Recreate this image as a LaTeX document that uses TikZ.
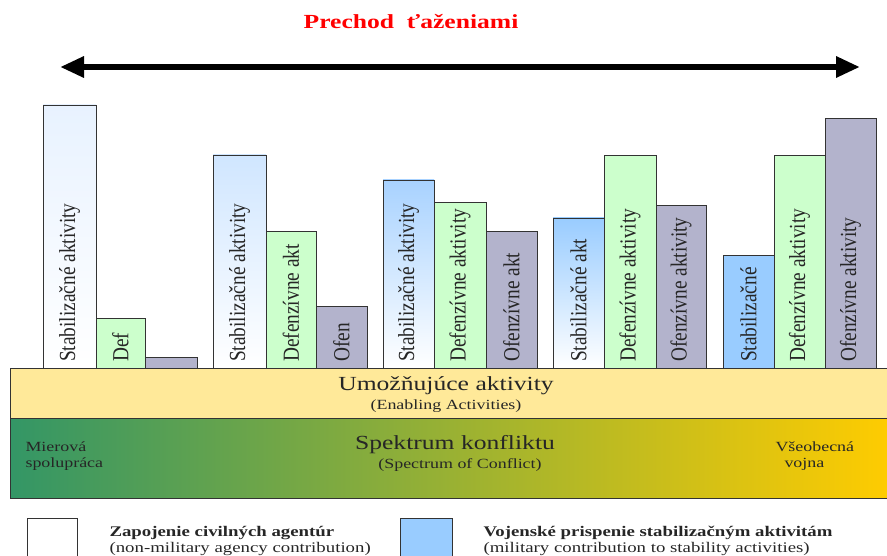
\documentclass[tikz,border=0pt]{standalone}
\usepackage{fontspec}
\setmainfont[FakeStretch=1.28]{Liberation Serif}
\newfontfamily\barfont[FakeStretch=0.84]{Liberation Serif}
\usetikzlibrary{arrows.meta}
\definecolor{stab}{RGB}{153,204,255}
\definecolor{defcol}{RGB}{204,255,204}
\definecolor{ofcol}{RGB}{179,179,204}
\definecolor{enabl}{RGB}{255,233,153}
\definecolor{peace}{RGB}{51,150,102}
\definecolor{midcol}{RGB}{176,174,78}
\definecolor{war}{RGB}{255,204,0}
\tikzset{
  barbox/.style={draw=black!80, line width=0.8pt},
  stabA/.style={top color={rgb,255:red,232;green,242;blue,255}, bottom color=white},
  stabB/.style={top color={rgb,255:red,208;green,230;blue,255}, bottom color=white},
  stabC/.style={top color={rgb,255:red,168;green,210;blue,255}, bottom color=white},
  stabD/.style={top color=stab, bottom color=white},
  stabE/.style={fill=stab},
  defb/.style={fill=defcol},
  ofb/.style={fill=ofcol},
  barlabel/.style={rotate=90, anchor=west, inner sep=0pt, text=black!85,
    font=\barfont\fontsize{23}{23}\selectfont},
  smalltext/.style={font=\fontsize{14}{16}\selectfont, text=black!85},
  legtext/.style={font=\fontsize{14.7}{16}\selectfont, text=black!85, anchor=west},
}

\begin{document}
\begin{tikzpicture}[x=1pt,y=-1pt]
\useasboundingbox (0,0) rectangle (887,556);

\node[text=red, font=\bfseries\fontsize{20}{24}\selectfont] (title) at (411,22) {Prechod\ \ ťaženiami}; % nadpis
\coordinate (leftend) at (60,67);
\coordinate (rightend) at (860,67);
\draw[line width=6pt, {Triangle[length=24pt,width=20pt]}-{Triangle[length=24pt,width=20pt]}] (leftend) -- (rightend); % sipka

% stlpce: lavy okraj / pravy okraj / vrch / styl / text
\foreach \xa/\xb/\yt/\sty/\txt [count=\i] in {
    43/96/105/stabA/Stabilizačné aktivity, 96/145/318/defb/Def, 145/197/357/ofb/,
    213/266/155/stabB/Stabilizačné aktivity, 266/316/231/defb/Defenzívne akt, 316/367/306/ofb/Ofen,
    383/434/180/stabC/Stabilizačné aktivity, 434/486/202/defb/Defenzívne aktivity, 486/537/231/ofb/Ofenzívne akt,
    553/604/218/stabD/Stabilizačné akt, 604/656/155/defb/Defenzívne aktivity, 656/706/205/ofb/Ofenzívne aktivity,
    723/774/255/stabE/Stabilizačné, 774/825/155/defb/Defenzívne aktivity, 825/876/118/ofb/Ofenzívne aktivity} {
  \draw[barbox, \sty] (\xa,368) rectangle (\xb,\yt);
  \node[barlabel] (lab\i) at ({(\xa+\xb)/2},362) {\txt};
}

% umoznujuce aktivity
\draw[barbox, fill=enabl] (10,368) rectangle (892,418);
\node[font=\fontsize{20}{22}\selectfont, text=black!85] (enab) at (446,386) {Umožňujúce aktivity};
\node[smalltext] (enaben) at (446,406) {(Enabling Activities)};

% spektrum konfliktu
\shade[left color=peace, middle color=midcol, right color=war] (10,418) rectangle (892,498);
\draw[barbox] (10,418) rectangle (892,498);
\node[font=\fontsize{20}{22}\selectfont, text=black!85] (spec) at (455,445) {Spektrum konfliktu};
\node[smalltext] (specen) at (460,465) {(Spectrum of Conflict)};
\node[smalltext, anchor=west, align=left] (peacetxt) at (22,456) {Mierová\\spolupráca};
\node[smalltext, anchor=west, align=left] (wartxt) at (772,456) {Všeobecná\\\ \ vojna};

% legenda
\draw[barbox, fill=white] (27,518) rectangle (77,570);
\draw[barbox, fill=stab] (400,518) rectangle (452,570);
\node[legtext, font=\bfseries\fontsize{14.7}{16}\selectfont] (civ) at (106,533) {Zapojenie civilných agentúr};
\node[legtext] (civen) at (106,549) {(non-military agency contribution)};
\node[legtext, font=\bfseries\fontsize{14.7}{16}\selectfont] (mil) at (480,533) {Vojenské prispenie stabilizačným aktivitám};
\node[legtext] (milen) at (480,549) {(military contribution to stability activities)};
\end{tikzpicture}
\end{document}
